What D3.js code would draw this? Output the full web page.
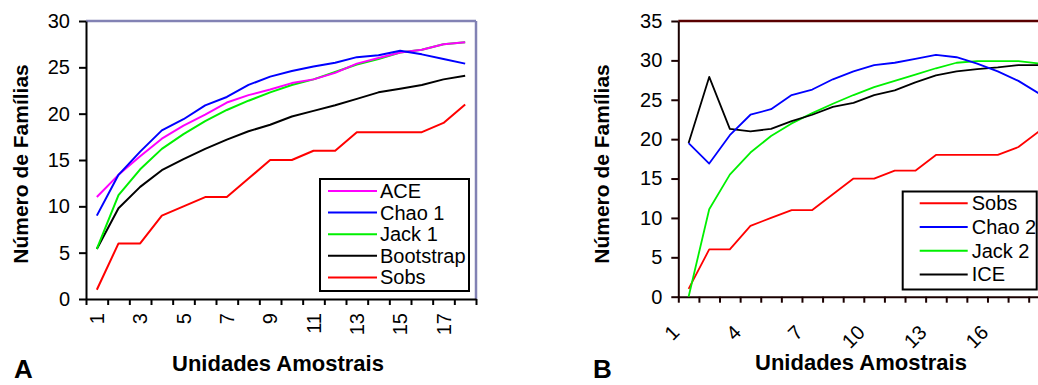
<!DOCTYPE html>
<html>
<head>
<meta charset="utf-8">
<script src="https://cdn.jsdelivr.net/npm/d3@7"></script>
<style>
  html, body { margin: 0; padding: 0; background: #fff; overflow: hidden; }
  svg { display: block; font-family: "Liberation Sans", Arial, sans-serif; }
</style>
</head>
<body>
<div id="chart"></div>
<script>
// unidades amostrais (1..18)
const units = [1, 2, 3, 4, 5, 6, 7, 8, 9, 10, 11, 12, 13, 14, 15, 16, 17, 18];

// painel A
const aceA = [11.0, 13.4, 15.4, 17.3, 18.7, 19.9, 21.2, 22.0, 22.6, 23.3, 23.7, 24.4, 25.4, 26.0, 26.6, 26.9, 27.5, 27.7];
const chao1A = [9.0, 13.4, 15.9, 18.2, 19.4, 20.9, 21.8, 23.1, 24.0, 24.6, 25.1, 25.5, 26.1, 26.3, 26.8, 26.4, 25.9, 25.4];
const jack1A = [5.4, 11.2, 14.0, 16.2, 17.8, 19.2, 20.4, 21.4, 22.3, 23.1, 23.7, 24.5, 25.3, 25.9, 26.6, 26.9, 27.5, 27.7];
const bootA = [5.4, 9.8, 12.1, 13.9, 15.1, 16.2, 17.2, 18.1, 18.8, 19.7, 20.3, 20.9, 21.6, 22.3, 22.7, 23.1, 23.7, 24.1];
const sobs = [1, 6, 6, 9, 10, 11, 11, 13, 15, 15, 16, 16, 18, 18, 18, 18, 19, 21];

// painel B
const chao2B = [19.5, 16.9, 20.5, 23.1, 23.8, 25.6, 26.3, 27.6, 28.6, 29.4, 29.7, 30.2, 30.7, 30.4, 29.6, 28.6, 27.4, 25.8];
const jack2B = [0, 11.1, 15.5, 18.3, 20.4, 22.0, 23.3, 24.5, 25.6, 26.6, 27.4, 28.2, 29.0, 29.7, 29.9, 29.9, 29.9, 29.6];
const iceB = [19.5, 27.9, 21.3, 21.0, 21.3, 22.3, 23.1, 24.1, 24.6, 25.6, 26.2, 27.2, 28.1, 28.6, 28.9, 29.1, 29.4, 29.4];

const yTicksA = [0, 5, 10, 15, 20, 25, 30];
const yTicksB = [0, 5, 10, 15, 20, 25, 30, 35];
const xLabelsA = [1, 3, 5, 7, 9, 11, 13, 15, 17];
const xLabelsB = [1, 4, 7, 10, 13, 16];

const W = 1038, H = 385;

const svg = d3.select('#chart').append('svg')
  .attr('width', W)
  .attr('height', H);

function drawPanel(p) {
  const g = svg.append('g');

  const x = d3.scaleBand().domain(units).range([p.left, p.right]);
  const xEdge = d3.scaleLinear().domain([0, units.length]).range([p.left, p.right]);
  const y = d3.scaleLinear().domain([0, p.yMax]).range([p.bottom, p.top]);

  // top and right frame
  g.append('line')
    .attr('x1', p.left).attr('x2', p.right)
    .attr('y1', p.top).attr('y2', p.top)
    .attr('stroke', p.frameColor).attr('stroke-width', 2.5);
  g.append('line')
    .attr('x1', p.right).attr('x2', p.right)
    .attr('y1', p.top).attr('y2', p.bottom)
    .attr('stroke', p.frameColor).attr('stroke-width', 2.5);

  // y axis
  const yAxis = g.append('g')
    .attr('transform', `translate(${p.left},0)`)
    .call(d3.axisLeft(y).tickValues(p.yTicks).tickSize(7).tickSizeOuter(0).tickPadding(9));
  yAxis.selectAll('path, line').attr('stroke', p.axisColor).attr('stroke-width', 2);
  yAxis.selectAll('text').attr('font-size', 20).attr('fill', '#000')
    .attr('font-family', '"Liberation Sans", Arial, sans-serif');

  // x axis: tick marks sit on band edges
  const xTicks = g.append('g')
    .attr('transform', `translate(0,${p.bottom})`)
    .call(d3.axisBottom(xEdge).tickValues(d3.range(units.length + 1)).tickSize(6).tickSizeOuter(0).tickFormat(''));
  xTicks.selectAll('path, line').attr('stroke', p.axisColor).attr('stroke-width', 2);

  // x labels at band centres
  const xLab = g.append('g')
    .attr('transform', `translate(0,${p.bottom})`)
    .call(d3.axisBottom(x).tickValues(p.xLabels).tickSize(0));
  xLab.select('.domain').remove();
  xLab.selectAll('text')
    .attr('font-size', 20).attr('fill', '#000')
    .attr('font-family', '"Liberation Sans", Arial, sans-serif')
    .attr('text-anchor', 'end')
    .attr('x', 0).attr('y', 0).attr('dy', '0.35em')
    .attr('transform', p.labelTransform);

  // series
  const line = d3.line()
    .x((d, i) => x(units[i]) + x.bandwidth() / 2)
    .y(d => y(d));

  p.series.forEach(s => {
    g.append('path')
      .datum(s.values)
      .attr('fill', 'none')
      .attr('stroke', s.color)
      .attr('stroke-width', p.lineWidth)
      .attr('stroke-linejoin', 'round')
      .attr('d', line);
  });

  // legend
  const lg = g.append('g');
  lg.append('rect')
    .attr('x', p.legend.x).attr('y', p.legend.y)
    .attr('width', p.legend.w).attr('height', p.legend.h)
    .attr('fill', '#fff').attr('stroke', '#000').attr('stroke-width', 2);
  p.legend.order.forEach((s, i) => {
    const yy = p.legend.row0 + i * p.legend.step;
    lg.append('line')
      .attr('x1', p.legend.x + p.legend.lx0).attr('x2', p.legend.x + p.legend.lx1)
      .attr('y1', yy).attr('y2', yy)
      .attr('stroke', s.color).attr('stroke-width', 2);
    lg.append('text')
      .attr('x', p.legend.x + p.legend.tx)
      .attr('y', yy).attr('dy', '0.35em')
      .attr('font-size', 20)
      .text(s.name);
  });

  // axis titles
  g.append('text')
    .attr('transform', `translate(${p.yTitleX},${p.yTitleY}) rotate(-90)`)
    .attr('text-anchor', 'middle')
    .attr('font-size', 21).attr('font-weight', 'bold')
    .text('Número de Famílias');
  g.append('text')
    .attr('x', p.xTitleX).attr('y', p.xTitleY)
    .attr('text-anchor', 'middle')
    .attr('font-size', 22).attr('font-weight', 'bold')
    .text('Unidades Amostrais');

  // panel letter
  g.append('text')
    .attr('x', p.letterX).attr('y', 378)
    .attr('font-size', 26).attr('font-weight', 'bold')
    .text(p.letter);
}

const seriesA = [
  {name: 'ACE', values: aceA, color: '#ff00ff'},
  {name: 'Chao 1', values: chao1A, color: '#0000ff'},
  {name: 'Jack 1', values: jack1A, color: '#00f000'},
  {name: 'Bootstrap', values: bootA, color: '#000000'},
  {name: 'Sobs', values: sobs, color: '#ff0000'}
];

drawPanel({
  left: 86, right: 476, top: 21, bottom: 299, yMax: 30,
  yTicks: yTicksA, xLabels: xLabelsA,
  frameColor: '#8282b4', axisColor: '#000',
  labelTransform: 'translate(0,14) rotate(-90)',
  lineWidth: 2,
  series: [seriesA[4], seriesA[3], seriesA[2], seriesA[0], seriesA[1]],
  legend: {x: 320, y: 179, w: 149, h: 112, lx0: 8, lx1: 57, tx: 60, row0: 191, step: 21.6, order: seriesA},
  yTitleX: 28, yTitleY: 164, xTitleX: 278, xTitleY: 371,
  letter: 'A', letterX: 14
});

const seriesB = [
  {name: 'Sobs', values: sobs, color: '#ff0000'},
  {name: 'Chao 2', values: chao2B, color: '#0000ff'},
  {name: 'Jack 2', values: jack2B, color: '#00f000'},
  {name: 'ICE', values: iceB, color: '#000000'}
];

drawPanel({
  left: 678.3, right: 1049.3, top: 21, bottom: 296.7, yMax: 35,
  yTicks: yTicksB, xLabels: xLabelsB,
  frameColor: '#5a0000', axisColor: '#1a0000',
  labelTransform: 'translate(-13,32) rotate(-45)',
  lineWidth: 1.8,
  series: [seriesB[0], seriesB[2], seriesB[3], seriesB[1]],
  legend: {x: 902.7, y: 191.5, w: 134, h: 98, lx0: 17, lx1: 65, tx: 69, row0: 203.3, step: 23.7, order: seriesB},
  yTitleX: 609, yTitleY: 164, xTitleX: 861, xTitleY: 370,
  letter: 'B', letterX: 593
});
</script>
</body>
</html>
